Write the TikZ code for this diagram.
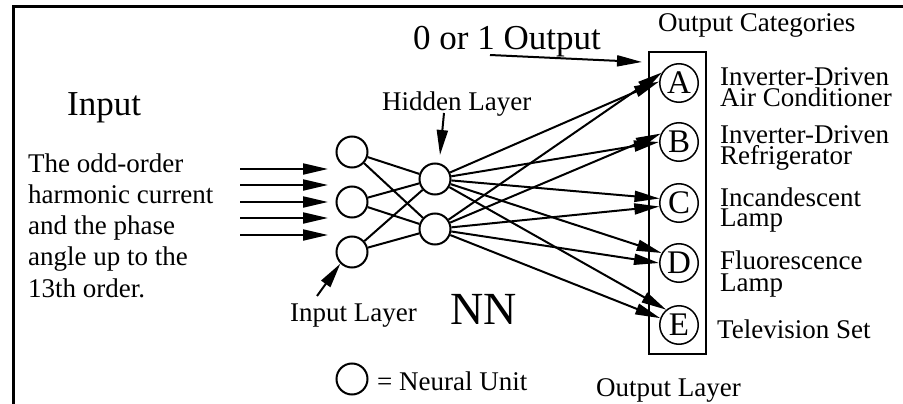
\documentclass[tikz,border=0pt]{standalone}
\usepackage{fontspec}
\setmainfont{Liberation Serif}
\usetikzlibrary{arrows.meta}
\begin{document}
\begin{tikzpicture}[x=1pt,y=-1pt,
  unit/.style={circle, draw, line width=2pt, minimum size=31pt, inner sep=0pt},
  outunit/.style={circle, draw, line width=1.5pt, minimum size=38.5pt, inner sep=0pt, font=\fontsize{33}{33}\selectfont},
  txt/.style={anchor=base west, inner sep=0pt, font=\fontsize{27}{27}\selectfont},
  cattxt/.style={anchor=base west, inner sep=0pt, align=left, font=\fontsize{27}{20.7}\selectfont},
  bigtxt/.style={anchor=base west, inner sep=0pt, font=\fontsize{35}{35}\selectfont},
  arr/.style={line width=2pt, -{Triangle[length=25pt,width=11pt]}},
  conn/.style={line width=2pt},
  frame/.style={line width=3pt, line join=miter}
]
\useasboundingbox (0,0) rectangle (903,404);
% frame
\coordinate (fbl) at (13.5,404);
\coordinate (ftl) at (13.5,6.5);
\coordinate (ftr) at (903,6.5);
\draw[frame] (fbl) -- (ftl) -- (ftr);

% units
\node[unit] (i1) at (352,152) {};
\node[unit] (i2) at (352,202) {};
\node[unit] (i3) at (352,252) {};
\node[unit] (h1) at (435,179) {};
\node[unit] (h2) at (435,229) {};
\node[unit] (leg) at (352,379) {};

% output box
\node[draw, line width=2pt, minimum width=56.5pt, minimum height=302pt, inner sep=0pt] (box) at (677.25,203) {};
\node[outunit] (A) at (679,83) {A};
\node[outunit] (B) at (679,142) {B};
\node[outunit] (C) at (679,203) {C};
\node[outunit] (D) at (679,263) {D};
\node[outunit] (E) at (679,325) {E};

% input text (base anchor = last line)
\node[bigtxt] (input) at (67,115) {Input};
\node[anchor=base west, inner sep=0pt, align=left, font=\fontsize{27}{31.25}\selectfont] (desc) at (28,297) {The odd-order\\harmonic current\\and the phase\\angle up to the\\13th order.};

% input arrows
\foreach \k/\y in {1/169,2/185,3/202,4/218,5/235}{
  \coordinate (ia\k) at (240,\y);
  \coordinate (ib\k) at (328,\y);
  \draw[arr] (ia\k) -- (ib\k);
}

% input -> hidden
\foreach \i in {i1,i2,i3}{
  \draw[conn] (\i) -- (h1);
  \draw[conn] (\i) -- (h2);
}

% hidden -> outputs
\draw[arr] (h1) -- (A.176);
\draw[arr] (h2) -- (A.148);
\draw[arr] (h1) -- (B.180);
\draw[arr] (h2) -- (B.155);
\draw[arr] (h1) -- (C.167);
\draw[arr] (h2) -- (C.190);
\draw[arr] (h1) -- (D.150);
\draw[arr] (h2) -- (D.180);
\draw[arr] (h1) -- (E.130);
\draw[arr] (h2) -- (E.160);

% labels
\node[txt] (hl) at (382,110.7) {Hidden Layer};
\coordinate (hla) at (444,113);
\coordinate (hlb) at (440,155);
\draw[arr] (hla) -- (hlb);

\node[txt] (il) at (290,321) {Input Layer};
\coordinate (ila) at (317,296);
\draw[arr] (ila) -- (i3.225);

\node[anchor=base west, inner sep=0pt, font=\fontsize{46}{46}\selectfont] (nn) at (450,324) {NN};
\node[txt] (nu) at (377,390) {= Neural Unit};
\node[txt] (ol) at (596,396.7) {Output Layer};
\node[txt] (oc) at (658,32) {Output Categories};

\node[bigtxt] (zo) at (413,50) {0 or 1 Output};
\coordinate (zoa) at (490,55);
\coordinate (zob) at (642,62);
\draw[arr] (zoa) -- (zob);

% category labels (base anchor = last line)
\node[cattxt] (ca) at (720,106.7) {Inverter-Driven\\Air Conditioner};
\node[cattxt] (cb) at (720,164) {Inverter-Driven\\Refrigerator};
\node[cattxt] (cc) at (720,226.7) {Incandescent\\Lamp};
\node[cattxt, font=\fontsize{27}{22}\selectfont] (cd) at (720,291) {Fluorescence\\Lamp};
\node[txt] (ce) at (717,338.3) {Television Set};
\end{tikzpicture}
\end{document}
